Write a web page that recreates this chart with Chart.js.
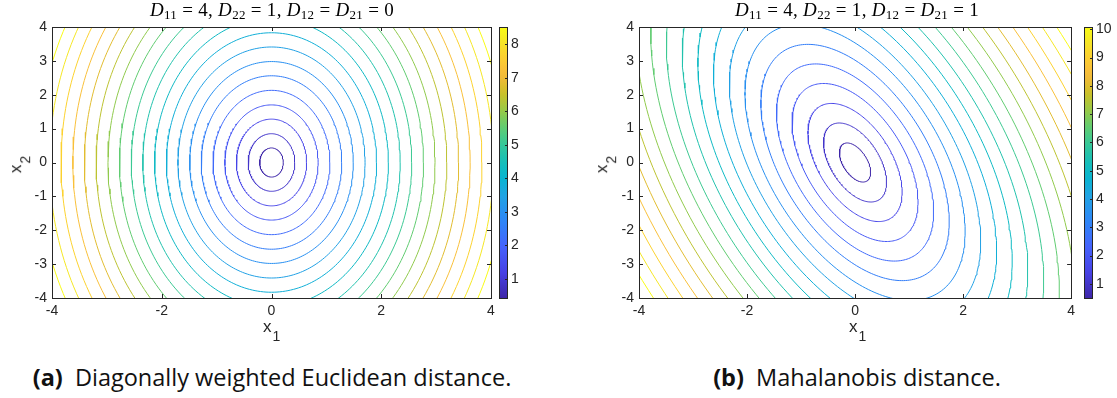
<!DOCTYPE html>
<html>
<head>
<meta charset="utf-8">
<script src="https://cdn.jsdelivr.net/npm/chart.js@4/dist/chart.umd.min.js"></script>
<style>
  html, body { margin: 0; padding: 0; background: #fff; }
  #page { position: relative; width: 1117px; height: 398px; overflow: hidden; }
  canvas { position: absolute; top: 0; }
  .lbl { position: absolute; font-family: 'Liberation Sans', Arial, sans-serif; color: #262626; white-space: nowrap; }
  .ttl { position: absolute; font-family: 'Liberation Serif', serif; font-size: 19px; color: #000; white-space: nowrap; transform: translateX(-50%); letter-spacing: 0.3px; }
  .ttl i { font-style: italic; }
  .ttl sub { font-size: 13px; vertical-align: -3px; }
  .axl { font-size: 17px; }
  .axl sub { font-size: 14px; vertical-align: -9px; margin-left: 1px; }
  .cap { position: absolute; font-family: 'Open Sans', sans-serif; font-size: 23.5px; color: #111; white-space: nowrap; transform: translateX(-50%); }
  .cap b { font-weight: 700; margin-right: 6px; }
</style>
</head>
<body>
<div id="page">
  <canvas id="plotA" width="500" height="345" style="left:0px"></canvas>
  <canvas id="barA" width="50" height="345" style="left:494px"></canvas>
  <canvas id="plotB" width="500" height="345" style="left:580px"></canvas>
  <canvas id="barB" width="50" height="345" style="left:1079px"></canvas>

  <div class="ttl" style="left:272px; top:-1px"><i>D</i><sub>11</sub> = 4, <i>D</i><sub>22</sub> = 1, <i>D</i><sub>12</sub> = <i>D</i><sub>21</sub> = 0</div>
  <div class="ttl" style="left:857px; top:-1px"><i>D</i><sub>11</sub> = 4, <i>D</i><sub>22</sub> = 1, <i>D</i><sub>12</sub> = <i>D</i><sub>21</sub> = 1</div>

  <div class="lbl axl" style="left:263px; top:317px">x<sub>1</sub></div>
  <div class="lbl axl" style="left:849px; top:317px">x<sub>1</sub></div>
  <div class="lbl axl" style="left:11px; top:151px; transform: rotate(-90deg); transform-origin: 50% 50%;">x<sub>2</sub></div>
  <div class="lbl axl" style="left:597px; top:151px; transform: rotate(-90deg); transform-origin: 50% 50%;">x<sub>2</sub></div>

  <div class="cap" style="left:272px; top:361px"><b>(a)</b> Diagonally weighted Euclidean distance.</div>
  <div class="cap" style="left:857px; top:361px"><b>(b)</b> Mahalanobis distance.</div>
</div>
<script>
// contour levels (20 levels each)
const levelsA = [0.43, 0.85, 1.28, 1.70, 2.13, 2.56, 2.98, 3.41, 3.83, 4.26,
                 4.69, 5.11, 5.54, 5.96, 6.39, 6.82, 7.24, 7.67, 8.09, 8.52];
const levelsB = [0.50, 1.01, 1.51, 2.02, 2.52, 3.02, 3.53, 4.03, 4.54, 5.04,
                 5.54, 6.05, 6.55, 7.06, 7.56, 8.06, 8.57, 9.07, 9.58, 10.08];

// weight matrices [D11, D12, D22]
const weightsA = [4, 0, 1];
const weightsB = [4, 1, 1];

// colorbar tick labels
const barTicksA = [1, 2, 3, 4, 5, 6, 7, 8];
const barTicksB = [1, 2, 3, 4, 5, 6, 7, 8, 9, 10];

const axisRange = [-4, 4];
const xStep = 2;
const yStep = 1;

// parula colormap, sampled: [position, r, g, b]
const parula = [
  [0 / 63, 0.2422, 0.1504, 0.6603],
  [6 / 63, 0.2783, 0.2559, 0.8991],
  [12 / 63, 0.2699, 0.3892, 0.9906],
  [18 / 63, 0.1786, 0.5289, 0.9682],
  [24 / 63, 0.1248, 0.6459, 0.8883],
  [28 / 63, 0.0297, 0.7082, 0.8163],
  [32 / 63, 0.0964, 0.7500, 0.7120],
  [36 / 63, 0.2161, 0.7843, 0.5923],
  [40 / 63, 0.3909, 0.8029, 0.4354],
  [44 / 63, 0.6174, 0.7876, 0.2612],
  [48 / 63, 0.8203, 0.7498, 0.1535],
  [52 / 63, 0.9728, 0.7298, 0.2394],
  [56 / 63, 0.9892, 0.8136, 0.1885],
  [60 / 63, 0.9597, 0.9135, 0.1423],
  [63 / 63, 0.9769, 0.9839, 0.0805]
];

const AXIS_COLOR = '#262626';
const TICK_FONT = { family: "'Liberation Sans', Arial, sans-serif", size: 14 };

function parulaColor(t) {
  t = Math.min(1, Math.max(0, t));
  let i = 0;
  while (i < parula.length - 2 && t > parula[i + 1][0]) i++;
  const a = parula[i], b = parula[i + 1];
  const u = (t - a[0]) / (b[0] - a[0]);
  const c = [1, 2, 3].map(k => Math.round(255 * (a[k] + (b[k] - a[k]) * u)));
  return `rgb(${c[0]},${c[1]},${c[2]})`;
}

// points of the curve x'Dx = L^2
function ellipse(w, L) {
  const [a, b, c] = w;
  const th = 0.5 * Math.atan2(2 * b, a - c);
  const m = (a + c) / 2, r = Math.sqrt(((a - c) / 2) ** 2 + b * b);
  const r1 = L / Math.sqrt(m + r), r2 = L / Math.sqrt(m - r);
  const pts = [];
  for (let i = 0; i <= 240; i++) {
    const t = (i / 240) * 2 * Math.PI;
    const u = r1 * Math.cos(t), v = r2 * Math.sin(t);
    pts.push({ x: u * Math.cos(th) - v * Math.sin(th), y: u * Math.sin(th) + v * Math.cos(th) });
  }
  return pts;
}

// matlab style box with inward ticks
const boxPlugin = {
  id: 'mbox',
  afterDatasetsDraw(chart, args, opts) {
    const { ctx, chartArea: a, scales } = chart;
    ctx.save();
    ctx.strokeStyle = AXIS_COLOR;
    ctx.lineWidth = 1;
    ctx.strokeRect(Math.round(a.left) + 0.5, Math.round(a.top) + 0.5,
                   Math.round(a.right - a.left), Math.round(a.bottom - a.top));
    const len = opts.len || 4;
    ctx.beginPath();
    if (opts.xTicks) {
      scales.x.ticks.forEach(t => {
        const p = Math.round(scales.x.getPixelForValue(t.value)) + 0.5;
        ctx.moveTo(p, a.bottom); ctx.lineTo(p, a.bottom - len);
        ctx.moveTo(p, a.top); ctx.lineTo(p, a.top + len);
      });
    }
    if (opts.yTicks) {
      scales.y.ticks.forEach(t => {
        const p = Math.round(scales.y.getPixelForValue(t.value)) + 0.5;
        if (opts.yLeft !== false) { ctx.moveTo(a.left, p); ctx.lineTo(a.left + len, p); }
        ctx.moveTo(a.right, p); ctx.lineTo(a.right - len, p);
      });
    }
    ctx.stroke();
    ctx.restore();
  }
};

function makePlot(id, levels, weights, pad) {
  const lo = levels[0], hi = levels[levels.length - 1];
  new Chart(document.getElementById(id), {
    type: 'scatter',
    data: {
      datasets: levels.map(L => ({
        data: ellipse(weights, L),
        showLine: true,
        borderColor: parulaColor((L - lo) / (hi - lo)),
        borderWidth: 1,
        pointRadius: 0,
        fill: false,
        tension: 0
      }))
    },
    options: {
      responsive: false,
      animation: false,
      devicePixelRatio: 1,
      layout: { padding: pad },
      plugins: {
        legend: { display: false },
        tooltip: { enabled: false },
        mbox: { xTicks: true, yTicks: true, len: 4 }
      },
      scales: {
        x: {
          type: 'linear', min: axisRange[0], max: axisRange[1],
          ticks: { stepSize: xStep, font: TICK_FONT, color: AXIS_COLOR, padding: 5, maxRotation: 0 },
          grid: { display: false, drawTicks: false },
          border: { display: false },
          afterFit: s => { s.height = 25; }
        },
        y: {
          type: 'linear', min: axisRange[0], max: axisRange[1],
          ticks: { stepSize: yStep, font: TICK_FONT, color: AXIS_COLOR, padding: 5 },
          grid: { display: false, drawTicks: false },
          border: { display: false },
          afterFit: s => { s.width = 20; }
        }
      }
    },
    plugins: [boxPlugin]
  });
}

function makeBar(id, levels, barTicks) {
  const lo = levels[0], hi = levels[levels.length - 1];
  new Chart(document.getElementById(id), {
    type: 'bar',
    data: {
      labels: ['c'],
      datasets: [{
        data: [[lo, hi]],
        barPercentage: 1,
        categoryPercentage: 1,
        borderWidth: 0,
        borderSkipped: false,
        backgroundColor: (c) => {
          const area = c.chart.chartArea;
          if (!area) return '#888';
          const g = c.chart.ctx.createLinearGradient(0, area.bottom, 0, area.top);
          for (let i = 0; i <= 32; i++) g.addColorStop(i / 32, parulaColor(i / 32));
          return g;
        }
      }]
    },
    options: {
      responsive: false,
      animation: false,
      devicePixelRatio: 1,
      layout: { padding: { left: 5, right: 1, top: 27, bottom: 47 } },
      plugins: {
        legend: { display: false },
        tooltip: { enabled: false },
        mbox: { xTicks: false, yTicks: true, yLeft: false, len: 2 }
      },
      scales: {
        x: { display: false },
        y: {
          position: 'right', min: lo, max: hi,
          ticks: { font: TICK_FONT, color: AXIS_COLOR, padding: 4 },
          grid: { display: false, drawTicks: false },
          border: { display: false },
          afterBuildTicks: s => { s.ticks = barTicks.map(v => ({ value: v })); },
          afterFit: s => { s.width = 36; }
        }
      }
    },
    plugins: [boxPlugin]
  });
}

makePlot('plotA', levelsA, weightsA, { left: 32, right: 9, top: 27, bottom: 22 });
makeBar('barA', levelsA, barTicksA);
makePlot('plotB', levelsB, weightsB, { left: 39, right: 5, top: 27, bottom: 22 });
makeBar('barB', levelsB, barTicksB);
</script>
</body>
</html>
